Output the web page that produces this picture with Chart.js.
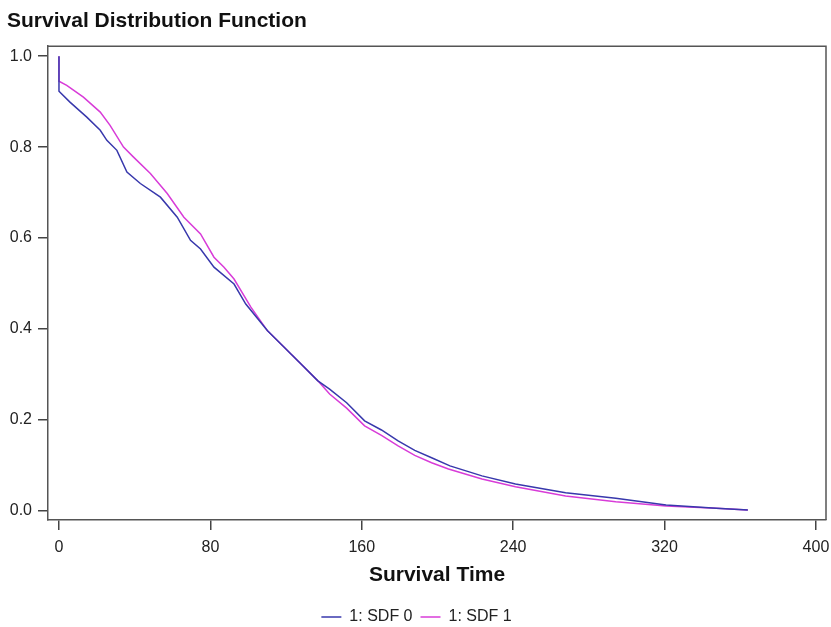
<!DOCTYPE html>
<html>
<head>
<meta charset="utf-8">
<script src="https://cdn.jsdelivr.net/npm/chart.js@4/dist/chart.umd.min.js"></script>
<style>
    html, body { margin: 0; padding: 0; background: #fff; }
    #box { width: 831px; height: 627px; }
</style>
</head>
<body>
<div id="box"><canvas id="sdfChart"></canvas></div>
<script>
// survival time / survival probability
var sdf0Time = [0, 0, 5.8, 14.7, 21.8, 25.3, 30.6, 35.9, 43, 53.6, 62.5, 69.5, 74.8, 81.9, 92.5, 98.7, 110.2, 119, 127.9, 136.8, 143, 152, 161.5, 170.4, 179.2, 188, 196.9, 206.6, 223.5, 241.2, 267.7, 294.2, 320.8, 347.3, 364];
var sdf0Surv = [1.0, 0.923, 0.899, 0.866, 0.837, 0.815, 0.793, 0.745, 0.72, 0.69, 0.646, 0.595, 0.576, 0.536, 0.499, 0.455, 0.396, 0.36, 0.323, 0.286, 0.268, 0.238, 0.198, 0.178, 0.154, 0.133, 0.117, 0.099, 0.077, 0.059, 0.040, 0.028, 0.013, 0.006, 0.002];

var sdf1Time = [0, 0, 4.1, 12.9, 21.8, 27, 34.1, 39.4, 48.3, 57.2, 66, 74.8, 81.9, 87.2, 92.5, 101.4, 110.2, 119, 127.9, 136.8, 143, 152, 161.5, 170.4, 179.2, 188, 196.9, 205.8, 223.5, 241.2, 267.7, 294.2, 320.8, 347.3, 364];
var sdf1Surv = [1.0, 0.945, 0.936, 0.91, 0.877, 0.848, 0.80, 0.778, 0.742, 0.698, 0.646, 0.609, 0.558, 0.536, 0.51, 0.448, 0.396, 0.36, 0.323, 0.286, 0.257, 0.226, 0.187, 0.166, 0.143, 0.122, 0.106, 0.092, 0.07, 0.053, 0.033, 0.02, 0.011, 0.006, 0.002];

var xTicks = [0, 80, 160, 240, 320, 400];
var yTicks = [0.0, 0.2, 0.4, 0.6, 0.8, 1.0];
var seriesNames = ['1: SDF 0', '1: SDF 1'];

function toPoints(xs, ys) {
    var pts = [];
    for (var i = 0; i < xs.length; i++) {
        pts.push({ x: xs[i], y: ys[i] });
    }
    return pts;
}

// top and right sides of the frame
var framePlugin = {
    id: 'frame',
    beforeDatasetsDraw: function(chart) {
        var a = chart.chartArea;
        var ctx = chart.ctx;
        ctx.save();
        ctx.strokeStyle = '#555';
        ctx.lineWidth = 1.5;
        ctx.beginPath();
        ctx.moveTo(a.left, a.top);
        ctx.lineTo(a.right, a.top);
        ctx.lineTo(a.right, a.bottom);
        ctx.stroke();
        ctx.restore();
    }
};

var tickFont = { family: 'Arial, "Liberation Sans", sans-serif', size: 16 };
var boldFont = { family: 'Arial, "Liberation Sans", sans-serif', size: 21, weight: 'bold' };

var ctx = document.getElementById('sdfChart').getContext('2d');
var sdfChart = new Chart(ctx, {
    type: 'line',
    data: {
        datasets: [{
            label: seriesNames[0],
            data: toPoints(sdf0Time, sdf0Surv),
            borderColor: '#3838ac',
            backgroundColor: '#3838ac',
            borderWidth: 1.5,
            pointRadius: 0,
            tension: 0,
            fill: false
        }, {
            label: seriesNames[1],
            data: toPoints(sdf1Time, sdf1Surv),
            borderColor: '#d83cd8',
            backgroundColor: '#d83cd8',
            borderWidth: 1.5,
            pointRadius: 0,
            tension: 0,
            fill: false
        }]
    },
    options: {
        responsive: true,
        maintainAspectRatio: false,
        animation: false,
        layout: { padding: { left: 7, right: 5, top: 0, bottom: -8 } },
        plugins: {
            title: {
                display: true,
                text: 'Survival Distribution Function',
                align: 'start',
                color: '#111',
                font: boldFont,
                padding: { top: 9, bottom: 12 }
            },
            legend: {
                position: 'bottom',
                labels: {
                    color: '#222',
                    font: tickFont,
                    usePointStyle: true,
                    pointStyle: 'line',
                    pointStyleWidth: 20,
                    boxHeight: 16,
                    padding: 8
                }
            },
            tooltip: { enabled: false }
        },
        scales: {
            x: {
                type: 'linear',
                min: -5.8,
                max: 405.3,
                afterBuildTicks: function(scale) {
                    scale.ticks = xTicks.map(function(v) { return { value: v }; });
                },
                afterFit: function(scale) {
                    scale.height = 81;
                    scale.paddingLeft = 0;
                    scale.paddingRight = 0;
                },
                grid: { drawOnChartArea: false, drawTicks: true, tickLength: 10, color: '#444', lineWidth: 1.5 },
                border: { display: true, color: '#555', width: 1.5 },
                ticks: { color: '#222', font: tickFont, padding: 8, maxRotation: 0 },
                title: { display: true, text: 'Survival Time', color: '#111', font: boldFont, padding: { top: 4, bottom: 13 } }
            },
            y: {
                type: 'linear',
                min: -0.02,
                max: 1.022,
                afterBuildTicks: function(scale) {
                    scale.ticks = yTicks.map(function(v) { return { value: v }; });
                },
                afterFit: function(scale) { scale.width = 41; },
                grid: { drawOnChartArea: false, drawTicks: true, tickLength: 10, color: '#444', lineWidth: 1.5 },
                border: { display: true, color: '#555', width: 1.5 },
                ticks: {
                    color: '#222',
                    font: tickFont,
                    padding: 6,
                    callback: function(v) { return v.toFixed(1); }
                }
            }
        }
    },
    plugins: [framePlugin]
});
</script>
</body>
</html>
